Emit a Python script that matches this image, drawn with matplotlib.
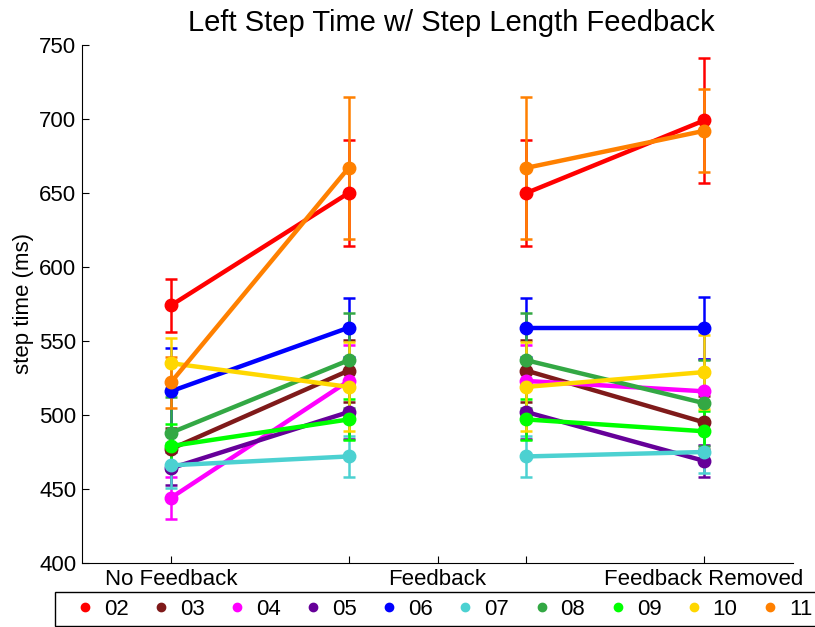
import numpy as np
import matplotlib.pyplot as plt
from matplotlib.lines import Line2D

plt.rcParams['font.family'] = ['Liberation Sans', 'DejaVu Sans']

subjects = ['02', '03', '04', '05', '06', '07', '08', '09', '10', '11']
colors = ['#ff0000', '#7f1a1a', '#ff00ff', '#660099', '#0000ff',
          '#4cd1d1', '#33a844', '#00ff00', '#ffd700', '#ff8000']

# mean left step time (ms) per condition: no fb, fb, fb, fb removed
means = [
    [574, 650, 650, 699],
    [477, 530, 530, 495],
    [444, 523, 523, 516],
    [464, 502, 502, 469],
    [516, 559, 559, 559],
    [466, 472, 472, 475],
    [488, 537, 537, 508],
    [479, 497, 497, 489],
    [535, 519, 519, 529],
    [522, 667, 667, 692],
]
errs = [
    [18, 36, 36, 42],
    [14, 21, 21, 18],
    [14, 24, 24, 22],
    [11, 18, 18, 11],
    [29, 20, 20, 21],
    [15, 14, 14, 14],
    [24, 32, 32, 29],
    [15, 14, 14, 14],
    [17, 30, 30, 25],
    [17, 48, 48, 28],
]
xpos = [1, 2, 3, 4]
tick_pos = [1, 2, 2.5, 3, 4]
tick_labels = ['No Feedback', '', 'Feedback', '', 'Feedback Removed']

fig = plt.figure(figsize=(8.15, 6.27), dpi=100)
ax = fig.add_axes([82/815, 1 - 563/627, (793-82)/815, (563-45)/627])

for i, (m, e, c) in enumerate(zip(means, errs, colors)):
    # feedback block drawn twice, with a gap between the two halves
    for seg in (slice(0, 2), slice(2, 4)):
        ax.errorbar(xpos[seg], m[seg], yerr=e[seg], color=c, lw=3.2,
                    marker='o', ms=9, elinewidth=1.8, capsize=4, capthick=1.8,
                    zorder=2 + i * 0.01)

ax.set_xlim(0.5, 4.5)
ax.set_ylim(400, 750)
ax.set_yticks(np.arange(400, 751, 50))
ax.set_xticks(tick_pos)
ax.set_xticklabels(tick_labels)
ax.tick_params(direction='in', length=5, width=0.8, labelsize=16, pad=4)
ax.spines['top'].set_visible(False)
ax.spines['right'].set_visible(False)
ax.set_ylabel('step time (ms)', fontsize=16, labelpad=4)
ax.set_title('Left Step Time w/ Step Length Feedback', fontsize=21,
             x=0.52, pad=10)

handles = [Line2D([], [], ls='none', marker='o', ms=6, color=c) for c in colors]
leg = fig.legend(handles, subjects, ncol=10, loc='upper left',
                 bbox_to_anchor=(55/815, 1 - 592/627), borderaxespad=0,
                 fontsize=16, fancybox=False, edgecolor='black',
                 borderpad=0.3, handlelength=2.1, handletextpad=-0.19,
                 columnspacing=0.4, framealpha=1)
leg.get_frame().set_linewidth(1)

fig.savefig('out.png', dpi=100)
